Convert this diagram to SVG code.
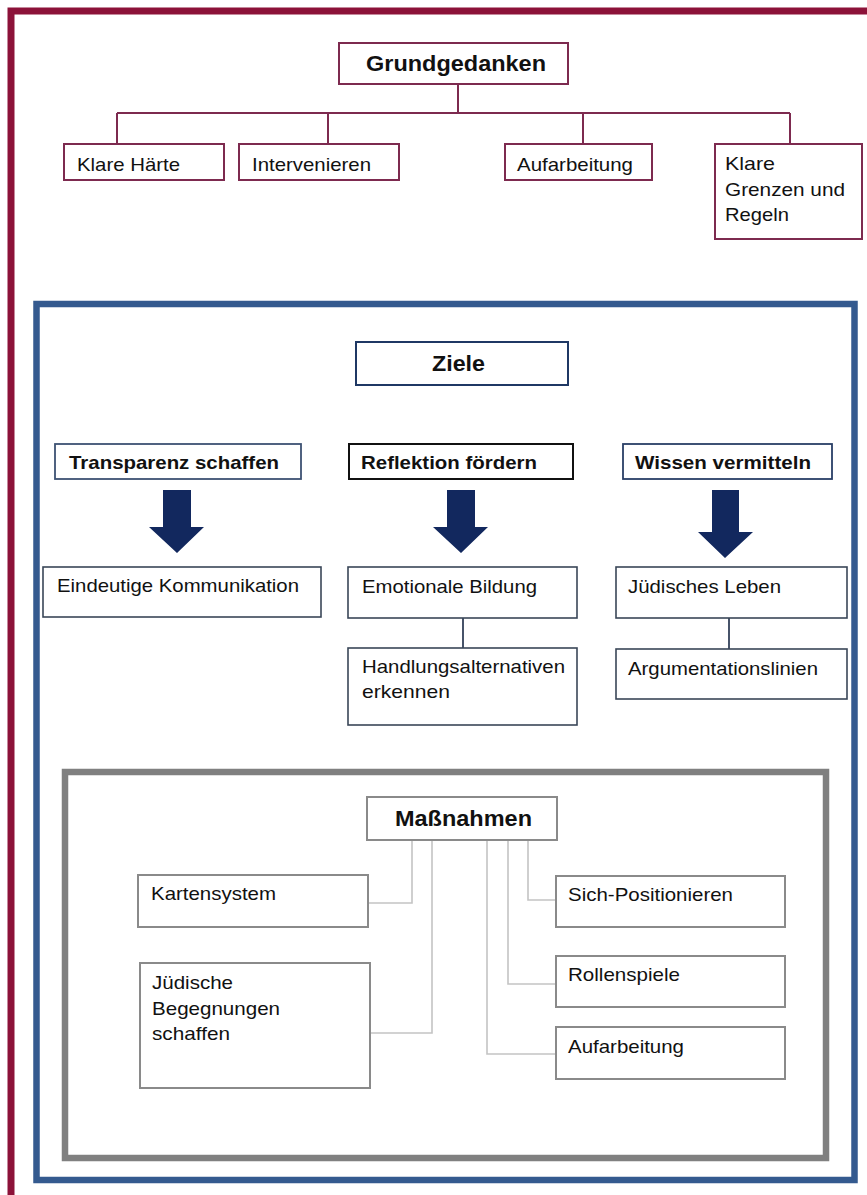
<svg xmlns="http://www.w3.org/2000/svg" width="867" height="1195" viewBox="0 0 867 1195">
<style>
text{font-family:"Liberation Sans",Arial,sans-serif;fill:#111;}
.t{font-size:19px;}
.b{font-size:19px;font-weight:bold;}
.h{font-size:22px;font-weight:bold;}
.m{fill:#fff;stroke:#7d2a4f;stroke-width:2;}
.n{fill:#fff;stroke:#3a4658;stroke-width:1.6;}
.g{fill:#fff;stroke:#8a8a8a;stroke-width:2;}
.cm{fill:none;stroke:#7d2a4f;stroke-width:2;}
.cn{fill:none;stroke:#34425a;stroke-width:1.8;}
.cg{fill:none;stroke:#c4c4c4;stroke-width:1.6;}
.ar{fill:#12285e;}
</style>
<rect width="867" height="1195" fill="#fff"/>
<!-- frames -->
<rect x="11" y="11" width="900" height="1250" fill="none" stroke="#8c1239" stroke-width="7"/>
<rect x="36.5" y="304" width="818" height="876" fill="none" stroke="#345a8f" stroke-width="6.5"/>
<rect x="65" y="772" width="761" height="386" fill="none" stroke="#808080" stroke-width="6.5"/>

<g id="connectors">
  <path class="cm" d="M458 84V113M117 113H790M117 113V144M328 113V144M583 113V144M790 113V144"/>
  <path class="cn" d="M463 618V648M729 618V649"/>
  <path class="cg" d="M412 840V903H368M432 840V1033H370M487 840V1054H556M508 840V984H556M528 840V900H556"/>
  <path class="ar" d="M163 490H191V527H204L177 553L149 527H163Z"/>
  <path class="ar" d="M447 490H475V527H488L461 553L433 527H447Z"/>
  <path class="ar" d="M712 490H739V532H753L725 558L698 532H712Z"/>
</g>

<g id="grundgedanken"><rect class="m" x="339" y="43" width="229" height="41"/><text class="h" x="366" y="71" textLength="180" lengthAdjust="spacingAndGlyphs">Grundgedanken</text></g>
<g id="klare-haerte"><rect class="m" x="64" y="144" width="160" height="36"/><text class="t" x="77" y="171" textLength="103" lengthAdjust="spacingAndGlyphs">Klare Härte</text></g>
<g id="intervenieren"><rect class="m" x="239" y="144" width="160" height="36"/><text class="t" x="252" y="171" textLength="119" lengthAdjust="spacingAndGlyphs">Intervenieren</text></g>
<g id="aufarbeitung-top"><rect class="m" x="505" y="144" width="147" height="36"/><text class="t" x="517" y="171" textLength="116" lengthAdjust="spacingAndGlyphs">Aufarbeitung</text></g>
<g id="klare-grenzen"><rect class="m" x="715" y="144" width="147" height="95"/><text class="t" x="725" y="170" textLength="50" lengthAdjust="spacingAndGlyphs">Klare</text><text class="t" x="725" y="196" textLength="120" lengthAdjust="spacingAndGlyphs">Grenzen und</text><text class="t" x="725" y="221" textLength="64" lengthAdjust="spacingAndGlyphs">Regeln</text></g>

<g id="ziele"><rect x="356" y="342" width="212" height="43" fill="#fff" stroke="#1f3864" stroke-width="2"/><text class="h" x="432" y="371" font-size="23" textLength="53" lengthAdjust="spacingAndGlyphs">Ziele</text></g>
<g id="transparenz"><rect x="55" y="444" width="246" height="35" fill="#fff" stroke="#3d5273" stroke-width="1.8"/><text class="b" x="69" y="469" textLength="210" lengthAdjust="spacingAndGlyphs">Transparenz schaffen</text></g>
<g id="reflektion"><rect x="349" y="444" width="224" height="35" fill="#fff" stroke="#111" stroke-width="2"/><text class="b" x="361" y="469" textLength="176" lengthAdjust="spacingAndGlyphs">Reflektion fördern</text></g>
<g id="wissen"><rect x="623" y="444" width="209" height="35" fill="#fff" stroke="#2a3f66" stroke-width="1.8"/><text class="b" x="635" y="469" textLength="176" lengthAdjust="spacingAndGlyphs">Wissen vermitteln</text></g>

<g id="eindeutige"><rect class="n" x="43" y="567" width="278" height="50"/><text class="t" x="57" y="592" textLength="242" lengthAdjust="spacingAndGlyphs">Eindeutige Kommunikation</text></g>
<g id="emotionale"><rect class="n" x="348" y="567" width="229" height="51"/><text class="t" x="362" y="593" textLength="175" lengthAdjust="spacingAndGlyphs">Emotionale Bildung</text></g>
<g id="handlung"><rect class="n" x="348" y="648" width="229" height="77"/><text class="t" x="362" y="673" textLength="203" lengthAdjust="spacingAndGlyphs">Handlungsalternativen</text><text class="t" x="362" y="698" textLength="88" lengthAdjust="spacingAndGlyphs">erkennen</text></g>
<g id="juedisches-leben"><rect class="n" x="616" y="567" width="231" height="51"/><text class="t" x="628" y="593" textLength="153" lengthAdjust="spacingAndGlyphs">Jüdisches Leben</text></g>
<g id="argumentation"><rect class="n" x="616" y="649" width="231" height="50"/><text class="t" x="628" y="675" textLength="190" lengthAdjust="spacingAndGlyphs">Argumentationslinien</text></g>

<g id="massnahmen"><rect class="g" x="367" y="797" width="190" height="43"/><text class="h" x="395" y="826" textLength="137" lengthAdjust="spacingAndGlyphs">Maßnahmen</text></g>
<g id="kartensystem"><rect class="g" x="138" y="875" width="230" height="52"/><text class="t" x="151" y="900" textLength="125" lengthAdjust="spacingAndGlyphs">Kartensystem</text></g>
<g id="begegnungen"><rect class="g" x="140" y="963" width="230" height="125"/><text class="t" x="152" y="989" textLength="81" lengthAdjust="spacingAndGlyphs">Jüdische</text><text class="t" x="152" y="1015" textLength="128" lengthAdjust="spacingAndGlyphs">Begegnungen</text><text class="t" x="152" y="1040" textLength="78" lengthAdjust="spacingAndGlyphs">schaffen</text></g>
<g id="sich-positionieren"><rect class="g" x="556" y="876" width="229" height="51"/><text class="t" x="568" y="901" textLength="165" lengthAdjust="spacingAndGlyphs">Sich-Positionieren</text></g>
<g id="rollenspiele"><rect class="g" x="556" y="956" width="229" height="51"/><text class="t" x="568" y="981" textLength="112" lengthAdjust="spacingAndGlyphs">Rollenspiele</text></g>
<g id="aufarbeitung"><rect class="g" x="556" y="1027" width="229" height="52"/><text class="t" x="568" y="1053" textLength="116" lengthAdjust="spacingAndGlyphs">Aufarbeitung</text></g>
</svg>
